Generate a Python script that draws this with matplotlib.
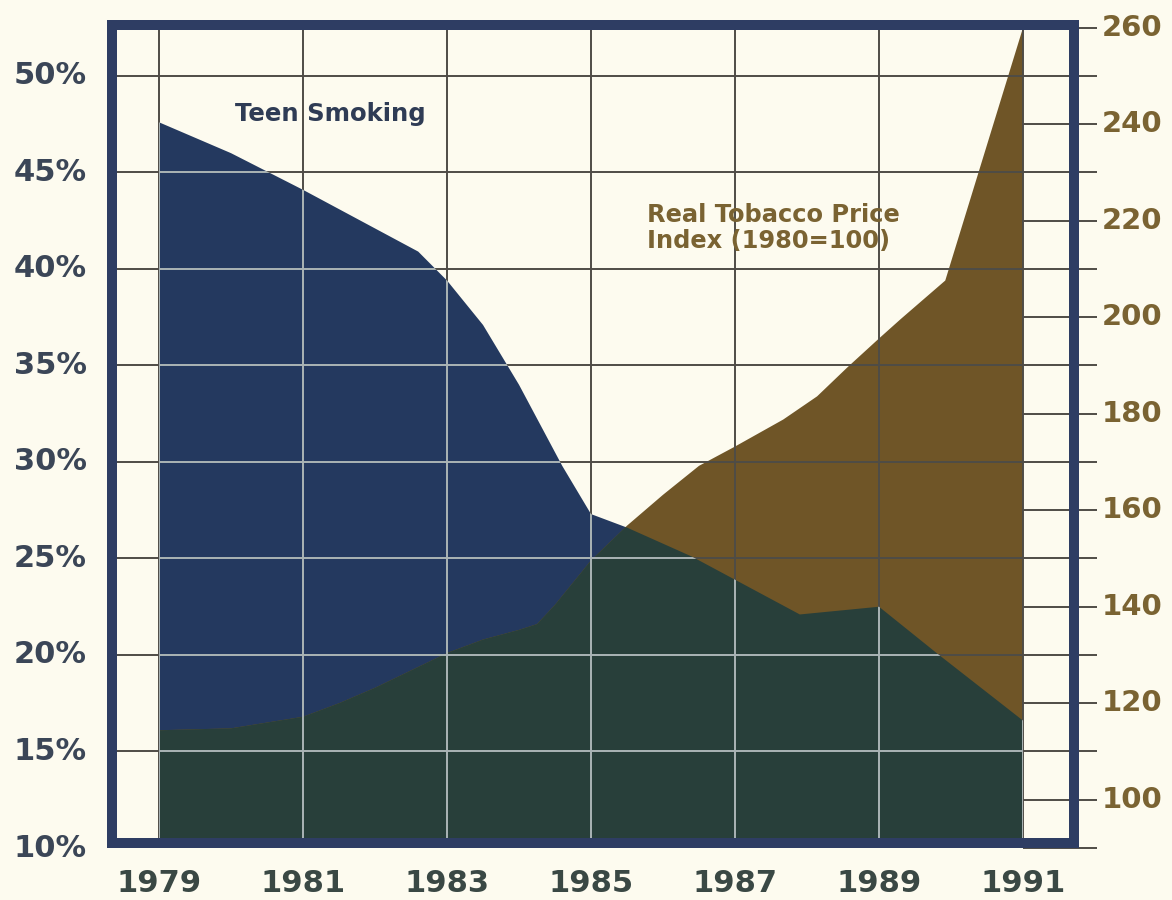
import matplotlib
matplotlib.use("Agg")
import matplotlib.pyplot as plt
from matplotlib.transforms import blended_transform_factory as blend

# ---------------- data ----------------
teen_years = [1979, 1980, 1981, 1982, 1982.6, 1983, 1983.5, 1984, 1984.6, 1985,
              1985.5, 1986.4, 1987.9, 1989, 1989.8, 1991]
teen_pct = [47.6, 46.0, 44.1, 42.1, 40.9, 39.4, 37.1, 34.0, 29.8, 27.3,
            26.6, 25.1, 22.1, 22.5, 20.1, 16.6]

price_years = [1979, 1980, 1981, 1981.5, 1982, 1982.5, 1983, 1983.5, 1984, 1984.25,
               1984.5, 1985, 1985.5, 1986, 1986.5, 1987, 1987.67, 1988.14, 1988.56,
               1989, 1989.3, 1989.92, 1991]
price_idx = [114.4, 114.8, 117.2, 120.0, 123.2, 126.8, 130.4, 133.2, 135.2, 136.4,
             140.4, 149.6, 156.8, 163.2, 169.2, 173.2, 178.8, 183.6, 189.6,
             195.6, 199.6, 207.6, 260.0]

year_ticks = [1979, 1981, 1983, 1985, 1987, 1989, 1991]
year_labels = ["1979", "1981", "1983", "1985", "1987", "1989", "1991"]
pct_ticks = [10, 15, 20, 25, 30, 35, 40, 45, 50]
pct_labels = ["10%", "15%", "20%", "25%", "30%", "35%", "40%", "45%", "50%"]
idx_ticks = [100, 120, 140, 160, 180, 200, 220, 240, 260]
idx_labels = ["100", "120", "140", "160", "180", "200", "220", "240", "260"]

# ---------------- style ----------------
BG = "#fdfbef"
NAVY = "#24395f"
GREEN = "#283f3a"
BROWN = "#6f5527"
FRAME = "#2e3d63"
DARKGRID = "#4f4c46"
LIGHTGRID = "#aab4b6"
LEFTLAB = "#3b4657"
YEARLAB = "#3a4844"
BROWNLAB = "#7a6332"
TEENLAB = "#2f3c55"
FONT = "DejaVu Sans"

W, H = 1172, 900
fig = plt.figure(figsize=(W / 100, H / 100), dpi=100)
fig.patch.set_facecolor(BG)

ax = fig.add_axes([112 / W, 1 - 843 / H, (1074 - 112) / W, (843 - 25) / H])
ax.set_facecolor(BG)
ax.set_xlim(1978.347, 1991.708)
ylo, yhi = 10 + 5 / 19.3, 52.64
ax.set_ylim(ylo, yhi)


def to_idx(p):
    return 90 + (p - 10) * 4


ax2 = ax.twinx()
ax2.set_ylim(to_idx(ylo), to_idx(yhi))

for a in (ax, ax2):
    a.tick_params(left=False, right=False, bottom=False, top=False,
                  labelleft=False, labelright=False, labelbottom=False)
for s in ax.spines.values():
    s.set_visible(False)
for s in ax2.spines.values():
    s.set_linewidth(7.2)
    s.set_color(FRAME)
    s.set_zorder(5)

# fills
teen_fill = ax.fill_between(teen_years, 0, teen_pct, color=NAVY, lw=0, zorder=1)
teen_path = teen_fill.get_paths()[0]
ax2.fill_between(price_years, 0, price_idx, color=BROWN, lw=0, zorder=1)
overlap = ax2.fill_between(price_years, 0, price_idx, color=GREEN, lw=0, zorder=1.1)
overlap.set_clip_path(teen_path, ax.transData)

# gridlines (dark everywhere, light where over teen area)
xr_end = 1992.03
hy = blend(ax2.transData, ax.transData)
vx = blend(ax.transData, ax2.transAxes)
for lw_col, z, clip in ((DARKGRID, 2, False), (LIGHTGRID, 2.1, True)):
    for p in pct_ticks[1:]:
        ln, = ax2.plot([1978.347, 1991], [p, p], color=lw_col, lw=1.4,
                       transform=hy, zorder=z, solid_capstyle="butt")
        if clip:
            ln.set_clip_path(teen_path, ax.transData)
    for yv in year_ticks:
        ln, = ax2.plot([yv, yv], [0, 1], color=lw_col, lw=1.4,
                       transform=vx, zorder=z, solid_capstyle="butt")
        if clip:
            ln.set_clip_path(teen_path, ax.transData)

# right-hand tick extensions
for v in range(90, 261, 10):
    ax2.plot([1991, xr_end], [v, v], color=DARKGRID, lw=1.4, zorder=2,
             clip_on=False, solid_capstyle="butt")

# labels
ly = blend(ax.transAxes, ax.transData)
for p, lab in zip(pct_ticks, pct_labels):
    ax.text(-0.026, p, lab, transform=ly, ha="right", va="center",
            fontsize=22, fontweight="bold", family=FONT, color=LEFTLAB, clip_on=False)

ry = blend(ax2.transAxes, ax2.transData)
for v, lab in zip(idx_ticks, idx_labels):
    ax2.text(1.029, v, lab, transform=ry, ha="left", va="center",
             fontsize=21, fontweight="bold", family=FONT, color=BROWNLAB, clip_on=False)

xt = ax.get_xaxis_transform()
for yv, lab in zip(year_ticks, year_labels):
    ax.text(yv, -0.049, lab, transform=xt, ha="center", va="center",
            fontsize=22, fontweight="bold", family=FONT, color=YEARLAB, clip_on=False)

ax2.text(1980.06, to_idx(48.03), "Teen Smoking", ha="left", va="center",
         fontsize=17.6, fontweight="bold", family=FONT, color=TEENLAB, zorder=4)
ax2.text(1985.78, to_idx(42.12), "Real Tobacco Price\nIndex (1980=100)",
         ha="left", va="center", fontsize=17.4, fontweight="bold", family=FONT,
         color=BROWNLAB, linespacing=1.1, zorder=4)

fig.savefig("out.png", dpi=100, facecolor=BG)
